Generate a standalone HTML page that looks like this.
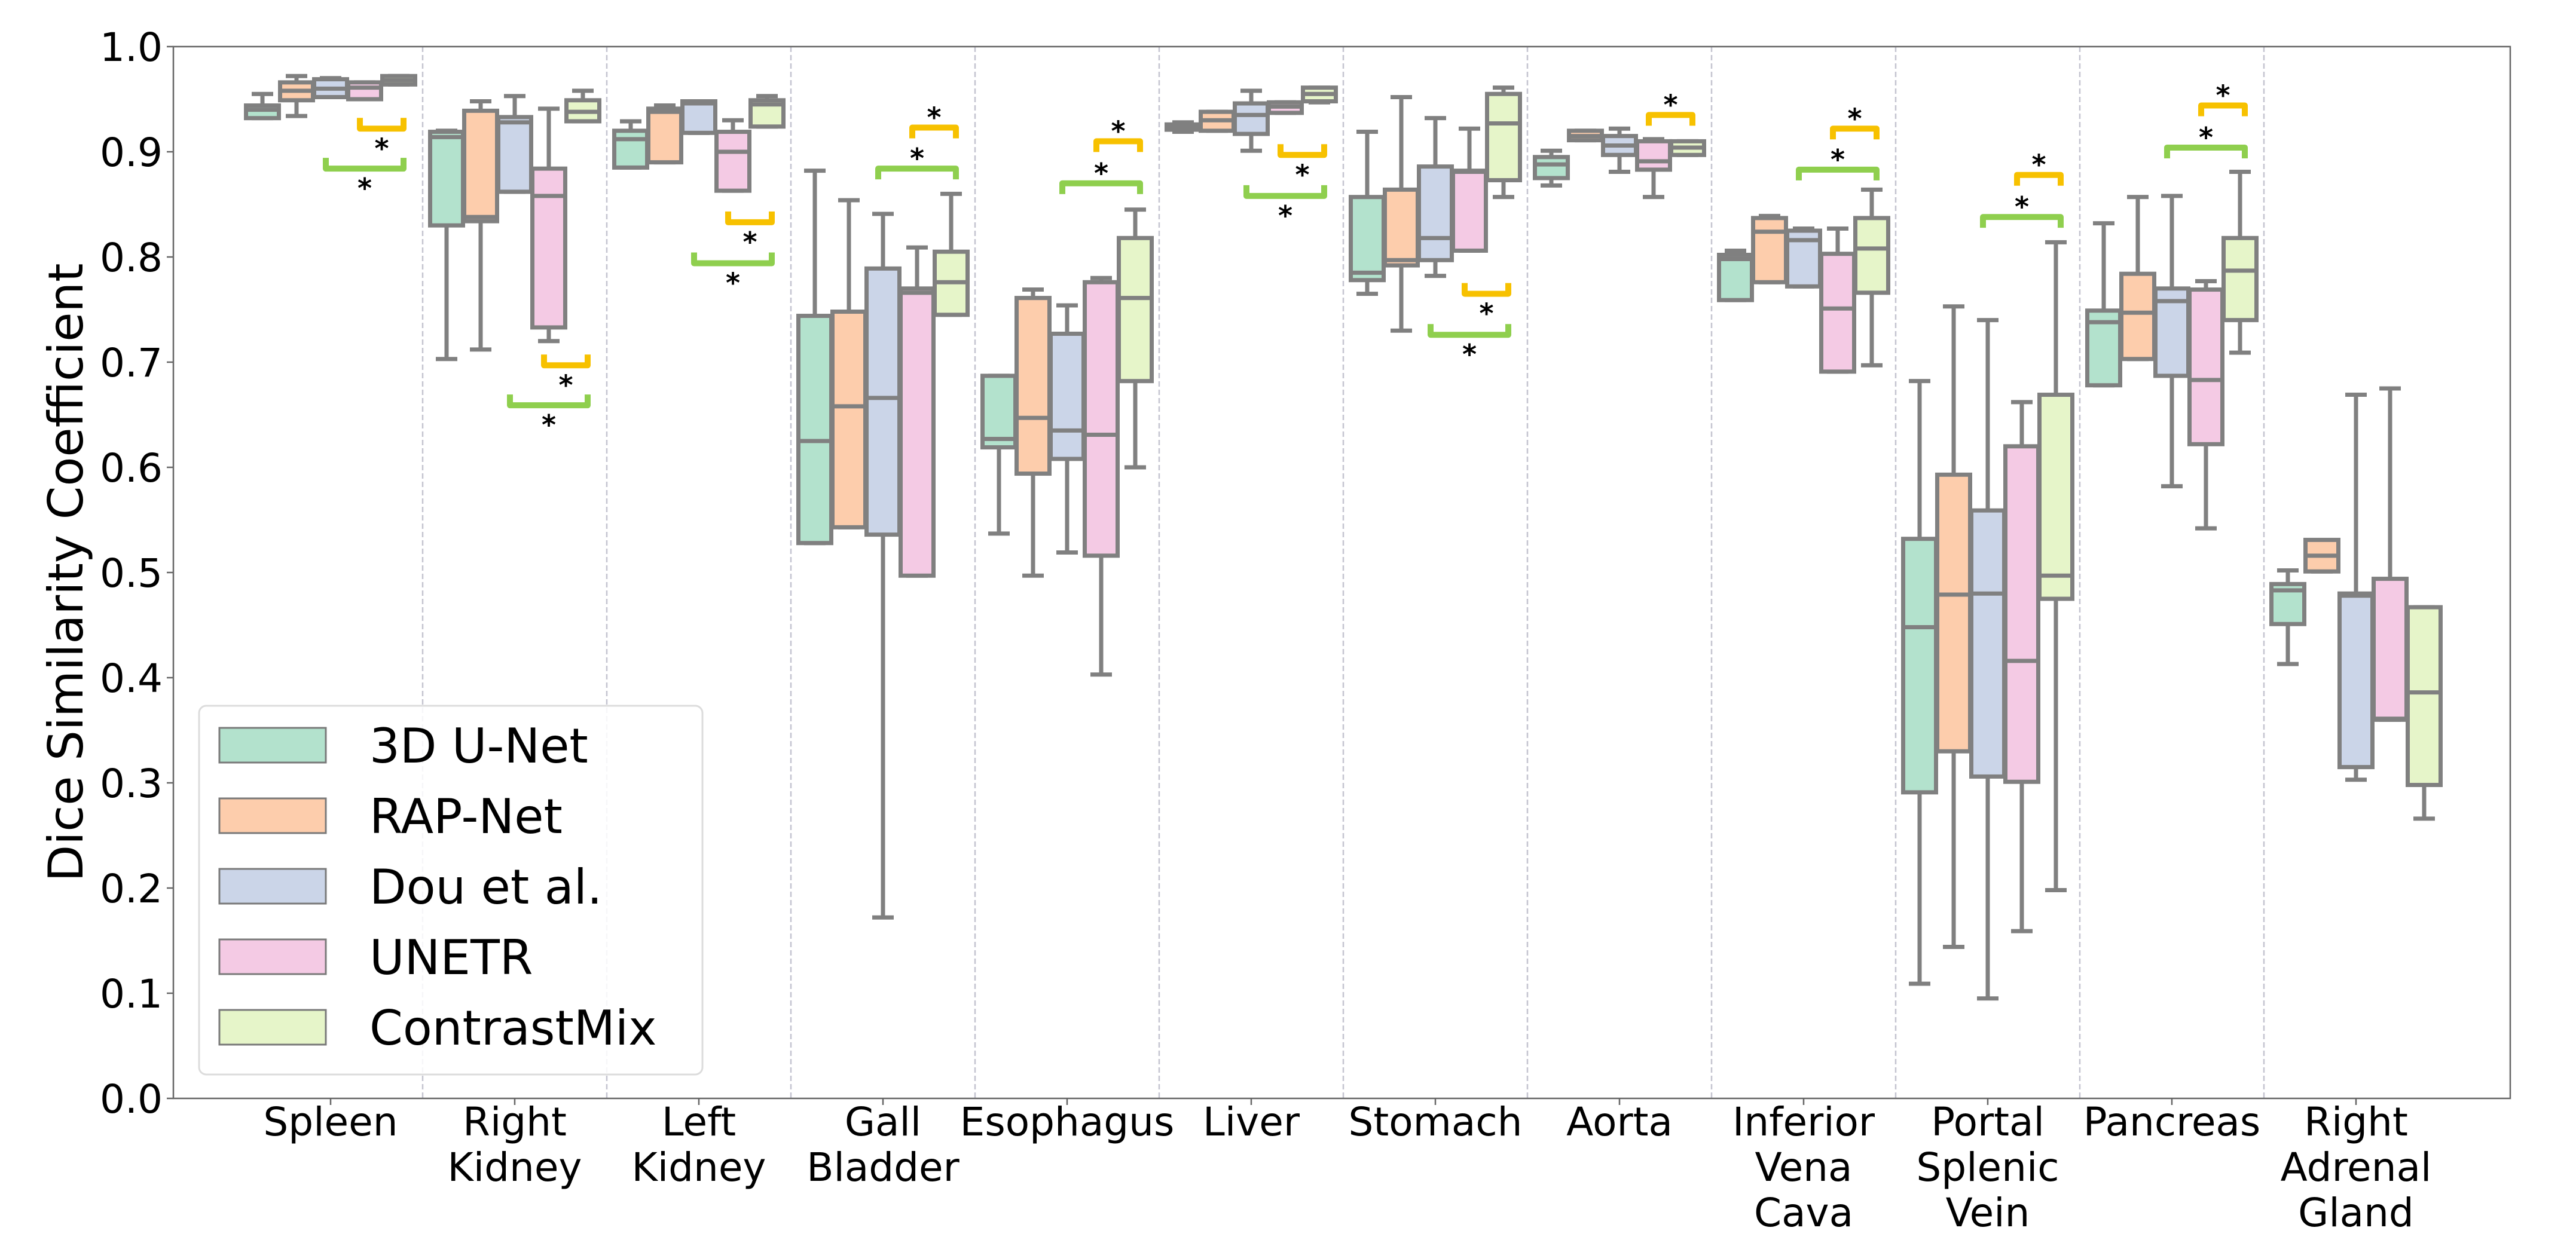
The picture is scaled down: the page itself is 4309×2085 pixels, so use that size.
<!DOCTYPE html>
<html><head><meta charset="utf-8">
<style>
html,body{margin:0;padding:0;background:#fff;}
svg{display:block;font-family:"DejaVu Sans","Liberation Sans",sans-serif;}
</style></head>
<body>
<svg id="chart" width="4309" height="2085" viewBox="0 0 4309 2085" xmlns="http://www.w3.org/2000/svg">
<rect x="0" y="0" width="4309" height="2085" fill="#fff"/>
<g id="dividers"></g>
<g id="boxes"></g>
<g id="brackets"></g>
<rect x="290" y="78" width="3909" height="1760" fill="none" stroke="#666" stroke-width="2.5"/>
<g id="yaxis"></g>
<g id="xaxis"></g>
<text x="0" y="0" transform="translate(138,958) rotate(-90)" text-anchor="middle" font-size="80" fill="#000">Dice Similarity Coefficient</text>
<g id="legend"></g>
</svg>
<script>
// ---- data ----
const categories = [["Spleen"],["Right","Kidney"],["Left","Kidney"],["Gall","Bladder"],["Esophagus"],["Liver"],["Stomach"],["Aorta"],["Inferior","Vena","Cava"],["Portal","Splenic","Vein"],["Pancreas"],["Right","Adrenal","Gland"]];
const methods = ["3D U-Net","RAP-Net","Dou et al.","UNETR","ContrastMix"];
const colors = ["#b3e2cd","#fdcdac","#cbd5e8","#f4cae4","#e6f5c9"];
// each entry: [whisker low, q1, median, q3, whisker high]
const unet3d = [[0.932,0.932,0.940,0.944,0.955],[0.703,0.830,0.914,0.919,0.920],[0.885,0.885,0.912,0.920,0.929],[0.528,0.528,0.625,0.744,0.882],[0.537,0.619,0.627,0.687,0.687],[0.919,0.921,0.924,0.926,0.928],[0.765,0.778,0.785,0.857,0.919],[0.868,0.875,0.888,0.895,0.901],[0.759,0.759,0.798,0.802,0.806],[0.109,0.291,0.448,0.532,0.682],[0.678,0.678,0.738,0.749,0.832],[0.413,0.451,0.483,0.489,0.502]];
const rapnet = [[0.934,0.949,0.958,0.966,0.972],[0.712,0.834,0.838,0.939,0.948],[0.890,0.890,0.938,0.941,0.944],[0.543,0.543,0.658,0.748,0.854],[0.497,0.594,0.647,0.761,0.769],[0.920,0.920,0.930,0.938,0.938],[0.730,0.792,0.797,0.864,0.952],[0.911,0.911,0.915,0.920,0.920],[0.776,0.776,0.824,0.837,0.839],[0.144,0.330,0.479,0.593,0.753],[0.703,0.703,0.747,0.784,0.857],[0.501,0.501,0.516,0.531,0.531]];
const dou = [[0.952,0.952,0.960,0.969,0.970],[0.862,0.862,0.928,0.933,0.953],[0.918,0.918,0.946,0.948,0.948],[0.172,0.536,0.666,0.789,0.841],[0.519,0.608,0.635,0.727,0.754],[0.901,0.917,0.935,0.946,0.958],[0.782,0.797,0.818,0.886,0.932],[0.881,0.897,0.906,0.915,0.922],[0.772,0.772,0.816,0.825,0.827],[0.095,0.306,0.480,0.559,0.740],[0.582,0.687,0.758,0.770,0.858],[0.303,0.315,0.478,0.480,0.669]];
const unetr = [[0.950,0.950,0.961,0.966,0.966],[0.720,0.733,0.858,0.884,0.941],[0.863,0.863,0.900,0.919,0.930],[0.497,0.497,0.766,0.770,0.809],[0.403,0.516,0.631,0.776,0.780],[0.937,0.937,0.943,0.947,0.947],[0.806,0.806,0.881,0.882,0.922],[0.857,0.883,0.891,0.910,0.912],[0.691,0.691,0.751,0.803,0.827],[0.159,0.301,0.416,0.620,0.662],[0.542,0.622,0.683,0.769,0.777],[0.360,0.360,0.361,0.494,0.675]];
const contrastmix = [[0.964,0.964,0.968,0.972,0.972],[0.929,0.929,0.938,0.949,0.958],[0.924,0.924,0.945,0.949,0.953],[0.745,0.745,0.776,0.805,0.860],[0.600,0.682,0.761,0.818,0.845],[0.947,0.948,0.955,0.961,0.961],[0.857,0.873,0.927,0.955,0.961],[0.897,0.897,0.904,0.910,0.910],[0.697,0.766,0.808,0.837,0.864],[0.198,0.475,0.497,0.669,0.814],[0.709,0.740,0.787,0.818,0.881],[0.266,0.298,0.386,0.467,0.467]];
const series = [unet3d, rapnet, dou, unetr, contrastmix];
// significance brackets: [category index, from-method index, bracket level, direction (1 above, -1 below), colour index]
const bracketCats = [0,0,1,1,2,2,3,3,4,4,5,5,6,6,7,8,8,9,9,10,10];
const bracketFrom = [3,2,3,2,3,2,3,2,3,2,3,2,3,2,3,3,2,3,2,3,2];
const bracketLevel = [0.922,0.884,0.697,0.659,0.833,0.794,0.923,0.884,0.910,0.870,0.897,0.858,0.765,0.726,0.935,0.922,0.883,0.878,0.838,0.944,0.904];
const bracketDir = [-1,-1,-1,-1,-1,-1,1,1,1,1,-1,-1,-1,-1,1,1,1,1,1,1,1];
const yTicks = [0.0,0.1,0.2,0.3,0.4,0.5,0.6,0.7,0.8,0.9,1.0];

// ---- axes ----
const NS = "http://www.w3.org/2000/svg";
function yS(v){ return 1838 - 1760*v; }
function xC(i){ return 553 + 308*i; }
function xB(i,j){ return xC(i) + (j-2)*57; }
function mk(tag, attrs, parent){ const e=document.createElementNS(NS,tag); for(const k in attrs) e.setAttribute(k,attrs[k]); parent.appendChild(e); return e; }
const gDiv=document.getElementById('dividers'), gBox=document.getElementById('boxes'), gBr=document.getElementById('brackets');
const gY=document.getElementById('yaxis'), gX=document.getElementById('xaxis'), gL=document.getElementById('legend');
const EDGE="#808080";

for(let i=0;i<categories.length-1;i++){
  const x=xC(i)+154;
  const l=mk('line',{x1:x,y1:78,x2:x,y2:1838,stroke:"#c4c4d0","stroke-width":2.5,"stroke-dasharray":"9,5"},gDiv);
  
  
}

yTicks.forEach(t=>{
  const y=yS(t);
  const tk=mk('line',{x1:279,y1:y,x2:290,y2:y,stroke:"#666","stroke-width":2.5},gY);
  
  
  const tx=mk('text',{x:272,y:y+24,"text-anchor":"end","font-size":66,fill:"#000"},gY);
  
  
  tx.textContent=t.toFixed(1);
});

categories.forEach((lines,i)=>{
  const x=xC(i);
  const tk=mk('line',{x1:x,y1:1838,x2:x,y2:1849,stroke:"#666","stroke-width":2.5},gX);
  
  
  const tx=mk('text',{x:x,y:1900,"text-anchor":"middle","font-size":66,fill:"#000"},gX);
  
  
  lines.forEach((s,k)=>{ const sp=mk('tspan',{x:x,y:1900+76*k},tx); sp.textContent=s; });
});

// ---- boxes ----
series.forEach((ser,j)=>{
  ser.forEach((d,i)=>{
    const cx=xB(i,j);
    const [lo,q1,md,q3,hi]=d;
    const g=mk('g',{},gBox);
    
    
    if(hi>q3){ mk('line',{x1:cx,y1:yS(q3),x2:cx,y2:yS(hi),stroke:EDGE,"stroke-width":7},g); }
    mk('line',{x1:cx-18,y1:yS(hi),x2:cx+18,y2:yS(hi),stroke:EDGE,"stroke-width":7},g);
    if(lo<q1){ mk('line',{x1:cx,y1:yS(q1),x2:cx,y2:yS(lo),stroke:EDGE,"stroke-width":7},g); }
    mk('line',{x1:cx-18,y1:yS(lo),x2:cx+18,y2:yS(lo),stroke:EDGE,"stroke-width":7},g);
    const h=Math.max(yS(q1)-yS(q3),1);
    mk('rect',{x:cx-27.5,y:yS(q3),width:55,height:h,fill:colors[j],stroke:EDGE,"stroke-width":7},g);
    mk('line',{x1:cx-27.5,y1:yS(md),x2:cx+27.5,y2:yS(md),stroke:EDGE,"stroke-width":7},g);
  });
});

// ---- significance brackets ----
const brColors=["#f7c100","#8fcf4e"];
bracketCats.forEach((c,k)=>{
  const a=xB(c,bracketFrom[k])-8, b=xB(c,4)+8;
  const y=yS(bracketLevel[k]), dir=bracketDir[k];
  const col = bracketFrom[k]===3?brColors[0]:brColors[1];
  const leg=y+dir*18;
  const p=mk('path',{d:`M${a},${leg} L${a},${y} L${b},${y} L${b},${leg}`,fill:"none",stroke:col,"stroke-width":10,"stroke-linejoin":"round"},gBr);
  
  
  const ay = dir>0 ? y-23 : y+27;
  const t=mk('text',{x:(a+b)/2,y:ay+22,"text-anchor":"middle","font-size":46,"font-weight":"bold",fill:"#000"},gBr);
  
  
  t.textContent="*";
});

// ---- legend ----
const lf=mk('rect',{x:333,y:1181,width:842,height:617,rx:12,fill:"#fff","fill-opacity":0.85,stroke:"#dcdcdc","stroke-width":3},gL);


methods.forEach((m,j)=>{
  const y=1218+118*j;
  const g=mk('g',{},gL);
  
  
  mk('rect',{x:367,y:y,width:178,height:58,fill:colors[j],stroke:"#7a7a7a","stroke-width":3},g);
  const t=mk('text',{x:618,y:y+58,"font-size":80,fill:"#000"},g);
  t.textContent=m;
});
</script>
</body></html>
